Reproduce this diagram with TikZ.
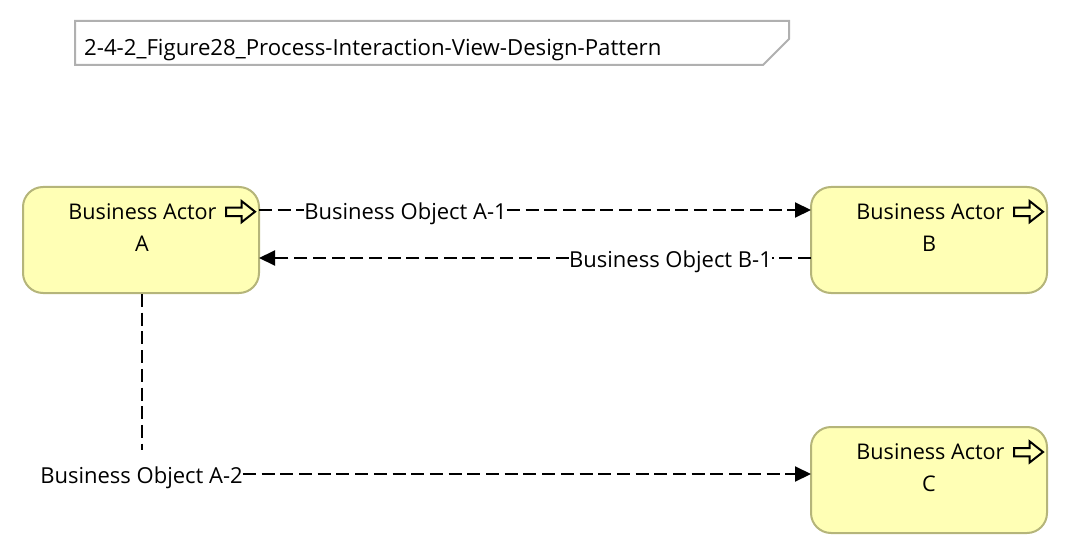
\documentclass[tikz,border=0pt]{standalone}
\usepackage{fontspec}
\setmainfont{Open Sans}
\usetikzlibrary{arrows.meta,calc}
\definecolor{actorfill}{HTML}{FFFFB5}
\definecolor{actorline}{HTML}{B5B57A}
\definecolor{noteline}{HTML}{B0B0B0}
\tikzset{
  actor/.style={draw=actorline,fill=actorfill,line width=2pt,rounded corners=20pt,minimum width=236pt,minimum height=106pt,inner sep=0pt},
  txt/.style={font=\fontsize{21.6}{24}\selectfont,inner sep=0pt,text=black},
  lbl/.style={font=\fontsize{22}{24}\selectfont,inner sep=0pt,text=black,fill=white,inner xsep=0pt,inner ysep=2pt},
  flow/.style={draw=black,line width=2pt,dash pattern=on 13pt off 5.7pt,-{Triangle[length=16pt,width=15pt]}},
  flowplain/.style={draw=black,line width=2pt,dash pattern=on 13pt off 5.7pt},
  icon/.style={draw=black,fill=actorfill,line width=2pt,miter limit=10}
}
\newcommand{\actoricon}[1]{%
  \draw[icon] ($(#1)+(-29,4.3)$) -- ++(15.5,0) -- ++(0,6.3) -- ++(13.5,-10.6) -- ++(-13.5,-10.7) -- ++(0,6.7) -- ++(-15.5,0) -- cycle;}
\begin{document}
\begin{tikzpicture}[x=1pt,y=-1pt]
\useasboundingbox (0,0) rectangle (1070,556);
% note
\draw[draw=noteline,line width=2pt] (75,21) -- (789,21) -- (789,39) -- (763,65) -- (75,65) -- cycle;
\node[font=\fontsize{22.2}{24}\selectfont,inner sep=0pt,anchor=west] (title) at (84,50) {2-4-2\_Figure28\_Process-Interaction-View-Design-Pattern};
% actors
\node[actor] (A) at (141,240) {};
\node[actor] (B) at (929,240) {};
\node[actor] (C) at (929,480) {};
\node[txt] (Atitle) at (142.5,212) {Business Actor};
\node[txt] (Aname) at (142,244) {A};
\node[txt] (Btitle) at (930.5,212) {Business Actor};
\node[txt] (Bname) at (929,244) {B};
\node[txt] (Ctitle) at (930.5,452) {Business Actor};
\node[txt] (Cname) at (929,484) {C};
\coordinate (Aicon) at (255,211.7);
\coordinate (Bicon) at (1043,211.7);
\coordinate (Cicon) at (1043,452);
\actoricon{Aicon}
\actoricon{Bicon}
\actoricon{Cicon}
% labels
\node[lbl] (L1) at (405.5,214) {Business Object A-1};
\node[lbl] (L2) at (670.5,262) {Business Object B-1};
\node[lbl] (L3) at (141.5,478) {Business Object A-2};
% connectors
\coordinate (A1) at (259,210);
\coordinate (B1) at (811,210);
\coordinate (B2) at (811,258);
\coordinate (A2) at (259,258);
\coordinate (C1) at (811,474);
\coordinate (L3top) at (142,450);
\draw[flowplain] (A1) -- (L1.west |- A1);
\draw[flow] (L1.east |- B1) -- (B1);
\draw[flowplain] (B2) -- (L2.east |- B2);
\draw[flow] (L2.west |- A2) -- (A2);
\draw[flowplain] (A.south -| L3top) -- (L3top);
\draw[flow] (L3.east |- C1) -- (C1);
\end{tikzpicture}
\end{document}
